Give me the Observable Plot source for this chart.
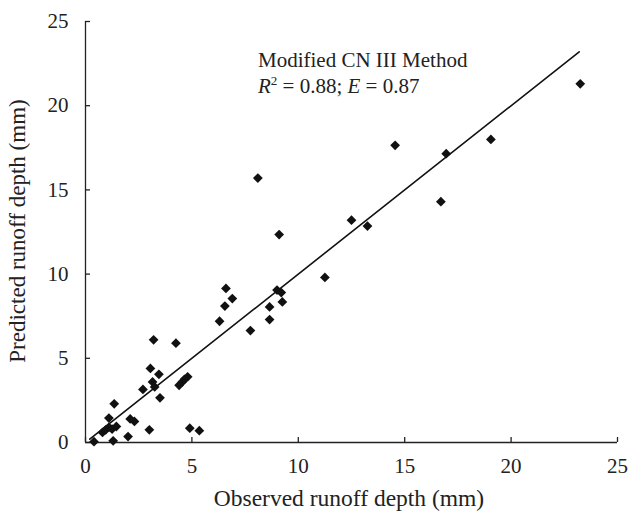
<!DOCTYPE html>
<html>
<head>
<meta charset="utf-8">
<script src="https://cdn.jsdelivr.net/npm/d3@7"></script>
<script src="https://cdn.jsdelivr.net/npm/@observablehq/plot@0.6"></script>
<style>
  html, body { margin: 0; padding: 0; background: #fff; }
  svg, svg text { font-family: "Liberation Serif", "DejaVu Serif", serif !important; }
</style>
</head>
<body>
<div id="chart"></div>
<script>
const observed  = [0.4, 1.3, 2.0, 3.0, 4.9, 5.35, 0.8, 0.95, 1.1, 1.25, 1.45, 1.1, 2.1, 2.3, 1.35,
                   2.7, 3.05, 3.45, 3.15, 3.25, 3.5, 4.25, 3.2, 4.4, 4.55, 4.65, 4.8,
                   6.3, 6.55, 6.6, 6.9, 7.75, 8.1, 8.65, 8.65, 9.0, 9.2, 9.25, 9.1,
                   11.25, 12.5, 13.25, 14.55, 16.7, 16.95, 19.05, 23.25];
const predicted = [0.05, 0.1, 0.35, 0.75, 0.85, 0.7, 0.6, 0.75, 0.9, 0.8, 0.95, 1.45, 1.4, 1.25, 2.3,
                   3.15, 4.4, 4.05, 3.6, 3.3, 2.65, 5.9, 6.1, 3.4, 3.6, 3.75, 3.9,
                   7.2, 8.1, 9.15, 8.55, 6.65, 15.7, 8.05, 7.3, 9.05, 8.9, 8.35, 12.35,
                   9.8, 13.2, 12.85, 17.65, 14.3, 17.15, 18.0, 21.3];
const fitX = [0.2, 23.2];
const fitY = [0.2, 23.2];
const xTicks = [0, 5, 10, 15, 20, 25];
const yTicks = [0, 5, 10, 15, 20, 25];
const annotLine1 = "Modified CN III Method";
const annotPos = {x: 8.13, y1: 22.27, y2: 20.72};

const points = observed.map((o, i) => ({o, p: predicted[i]}));
const fit = fitX.map((x, i) => ({x, y: fitY[i]}));
const serif = "Liberation Serif";

const plot = Plot.plot({
  width: 630,
  height: 518,
  marginLeft: 85,
  marginRight: 13,
  marginTop: 21,
  marginBottom: 76,
  style: {fontFamily: "'Liberation Serif', serif", background: "#fff", color: "#222"},
  x: {domain: [0, 25], ticks: xTicks, label: null},
  y: {domain: [0, 25], ticks: yTicks, label: null},
  marks: [
    Plot.axisX({ticks: xTicks, tickSize: -5, tickPadding: 21, fontSize: 21, fontFamily: serif, strokeWidth: 1.3, label: null}),
    Plot.axisY({ticks: yTicks, tickSize: -5, tickPadding: 22, fontSize: 21, fontFamily: serif, strokeWidth: 1.3, label: null}),
    Plot.ruleX([0], {stroke: "#222", strokeWidth: 1.3}),
    Plot.ruleY([0], {stroke: "#222", strokeWidth: 1.3}),
    Plot.line(fit, {x: "x", y: "y", stroke: "#111", strokeWidth: 1.6}),
    Plot.dot(points, {x: "o", y: "p", symbol: "diamond2", r: 4.4, fill: "#111", stroke: "none"})
  ]
});

const svg = d3.select(plot);
const sx = plot.scale("x"), sy = plot.scale("y");
svg.append("text")
  .attr("x", sx.apply(annotPos.x)).attr("y", sy.apply(annotPos.y1))
  .attr("text-anchor", "start")
  .attr("font-size", 21).attr("fill", "#222")
  .text(annotLine1);
const t2 = svg.append("text")
  .attr("x", sx.apply(annotPos.x)).attr("y", sy.apply(annotPos.y2))
  .attr("text-anchor", "start")
  .attr("font-size", 21).attr("fill", "#222");
t2.append("tspan").attr("font-style", "italic").text("R");
t2.append("tspan").attr("font-size", 13).attr("dy", -8).text("2");
t2.append("tspan").attr("dy", 8).text(" = 0.88; ");
t2.append("tspan").attr("font-style", "italic").text("E");
t2.append("tspan").text(" = 0.87");

svg.append("text")
  .attr("x", 349).attr("y", 506)
  .attr("text-anchor", "middle").attr("font-size", 23.5).attr("fill", "#222")
  .text("Observed runoff depth (mm)");
svg.append("text")
  .attr("transform", "translate(25,231) rotate(-90)")
  .attr("text-anchor", "middle").attr("font-size", 23).attr("fill", "#222")
  .text("Predicted runoff depth (mm)");

document.getElementById("chart").appendChild(plot);
</script>
</body>
</html>
